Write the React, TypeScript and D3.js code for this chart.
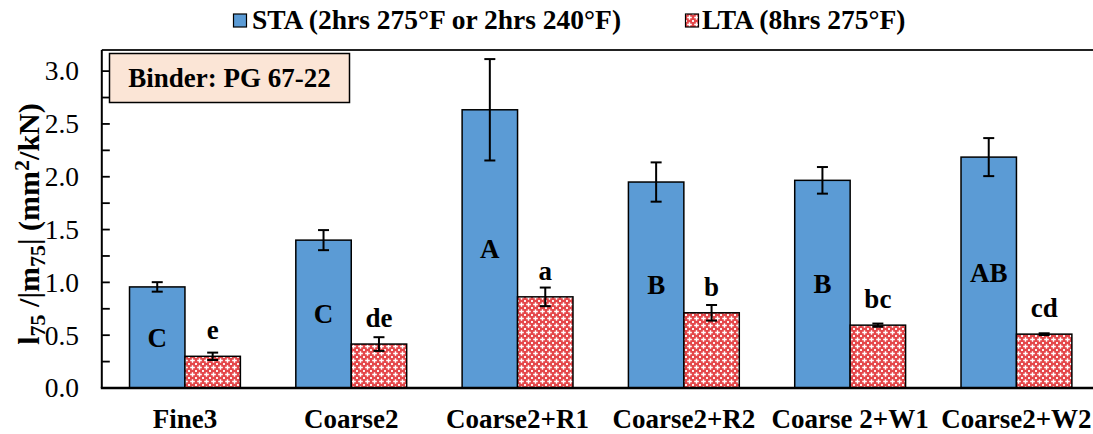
import React from "react";
import * as d3 from "d3";

const categories = ["Fine3", "Coarse2", "Coarse2+R1", "Coarse2+R2", "Coarse 2+W1", "Coarse2+W2"];
const staValues = [0.957, 1.40, 2.634, 1.95, 1.966, 2.186];
const staErrors = [0.045, 0.095, 0.48, 0.186, 0.126, 0.18];
const staLetters = ["C", "C", "A", "B", "B", "AB"];
const ltaValues = [0.30, 0.416, 0.863, 0.712, 0.595, 0.51];
const ltaErrors = [0.035, 0.065, 0.088, 0.074, 0.015, 0.008];
const ltaLetters = ["e", "de", "a", "b", "bc", "cd"];
const yTicks = [0, 0.5, 1.0, 1.5, 2.0, 2.5, 3.0];
const yMinorTicks = [0.25, 0.75, 1.25, 1.75, 2.25, 2.75];
const legendLabels = ["STA (2hrs 275°F or 2hrs 240°F)", "LTA (8hrs 275°F)"];

const W = 1093;
const H = 434;
const left = 101.8;
const right = 1099.6;
const top = 50;
const bottom = 388;
const FONT = "Liberation Serif";
const BLUE = "#5B9BD5";

export default function App() {
  const x = d3.scaleBand<string>().domain(categories).range([left, right]).paddingInner(1 / 3).paddingOuter(1 / 6);
  const y = d3.scaleLinear().domain([0, 3.2]).range([bottom, top]);
  const bw = x.bandwidth() / 2;

  const errBar = (cx: number, v: number, e: number, key: string) => (
    <g key={key} stroke="#000" strokeWidth={2}>
      <line x1={cx} x2={cx} y1={y(v + e)} y2={y(v - e)} />
      <line x1={cx - 5.5} x2={cx + 5.5} y1={y(v + e)} y2={y(v + e)} />
      <line x1={cx - 5.5} x2={cx + 5.5} y1={y(v - e)} y2={y(v - e)} />
    </g>
  );

  const tf = { fontFamily: FONT } as React.CSSProperties;

  return (
    <svg width={W} height={H} style={{ position: "absolute", left: 0, top: 0, background: "#fff", fontFamily: FONT }}>
      <defs>
        <pattern id="lta" patternUnits="userSpaceOnUse" width={7} height={7}>
          <rect width={7} height={7} fill="#E4474A" />
          <path d="M3.5 1.2V5.8M1.2 3.5H5.8" stroke="#fff" strokeWidth={1.4} />
          <path d="M0 0h1M0 0v1M7 0h-1M7 0v1M0 7h1M0 7v-1M7 7h-1M7 7v-1" stroke="#fff" strokeWidth={1.4} />
        </pattern>
      </defs>
      <rect x={0} y={0} width={W} height={H} fill="#fff" />

      {/* legend */}
      <rect x={233.5} y={14} width={13} height={13} fill={BLUE} stroke="#000" strokeWidth={1.2} />
      <text x={252} y={29} style={tf} fontWeight="bold" fontSize={27.5}>{legendLabels[0]}</text>
      <rect x={685.5} y={14} width={13} height={13} fill="url(#lta)" stroke="#000" strokeWidth={1.2} />
      <text x={702} y={29} style={tf} fontWeight="bold" fontSize={27.5}>{legendLabels[1]}</text>

      {/* frame top */}
      <line x1={left} x2={W} y1={top} y2={top} stroke="#222" strokeWidth={1.8} />

      {/* bars */}
      {categories.map((c, i) => {
        const x0 = x(c)!;
        return (
          <g key={c}>
            <rect x={x0} y={y(staValues[i])} width={bw} height={bottom - y(staValues[i])} fill={BLUE} stroke="#000" strokeWidth={1.5} />
            <rect x={x0 + bw} y={y(ltaValues[i])} width={bw} height={bottom - y(ltaValues[i])} fill="url(#lta)" stroke="#000" strokeWidth={1.5} />
          </g>
        );
      })}
      {categories.map((c, i) => {
        const x0 = x(c)!;
        return (
          <g key={c + "e"}>
            {errBar(x0 + bw / 2, staValues[i], staErrors[i], c + "s")}
            {errBar(x0 + bw * 1.5, ltaValues[i], ltaErrors[i], c + "l")}
          </g>
        );
      })}
      {/* letters */}
      {categories.map((c, i) => {
        const x0 = x(c)!;
        return (
          <g key={c + "t"} style={tf} fontWeight="bold" fontSize={27} textAnchor="middle">
            <text x={x0 + bw / 2} y={(y(staValues[i]) + bottom) / 2} dy="0.34em">{staLetters[i]}</text>
            <text x={x0 + bw * 1.5} y={y(ltaValues[i]) - 17}>{ltaLetters[i]}</text>
          </g>
        );
      })}

      {/* y axis */}
      <line x1={left} x2={left} y1={top} y2={bottom} stroke="#000" strokeWidth={2} />
      {[...yTicks, ...yMinorTicks].map((t) => (
        <line key={"t" + t} x1={left} x2={left + 8} y1={y(t)} y2={y(t)} stroke="#000" strokeWidth={1.8} />
      ))}
      {yTicks.map((t) => (
        <text key={"l" + t} x={79} y={y(t)} dy="0.34em" textAnchor="end" style={tf} fontSize={27.5}>{d3.format(".1f")(t)}</text>
      ))}
      {/* x axis */}
      <line x1={left - 1} x2={W} y1={bottom} y2={bottom} stroke="#000" strokeWidth={2.5} />
      {categories.map((c) => (
        <text key={"x" + c} x={x(c)! + x.bandwidth() / 2} y={428} textAnchor="middle" style={tf} fontWeight="bold" fontSize={27}>{c}</text>
      ))}

      {/* y title */}
      <text transform={`translate(39,${(top + bottom) / 2 + 5}) rotate(-90)`} textAnchor="middle" style={tf} fontWeight="bold" fontSize={30}>
        <tspan>l</tspan>
        <tspan fontSize={22} dy={6}>75</tspan>
        <tspan dy={-6}> /|m</tspan>
        <tspan fontSize={22} dy={6}>75</tspan>
        <tspan dy={-6}>| (mm</tspan>
        <tspan fontSize={22} dy={-10}>2</tspan>
        <tspan dy={10}>/kN)</tspan>
      </text>

      {/* binder box */}
      <rect x={109.5} y={53.5} width={240} height={49} fill="#FBE5D6" stroke="#000" strokeWidth={1.5} />
      <text x={229.5} y={78} dy="0.34em" textAnchor="middle" style={tf} fontWeight="bold" fontSize={27}>Binder: PG 67-22</text>
    </svg>
  );
}
